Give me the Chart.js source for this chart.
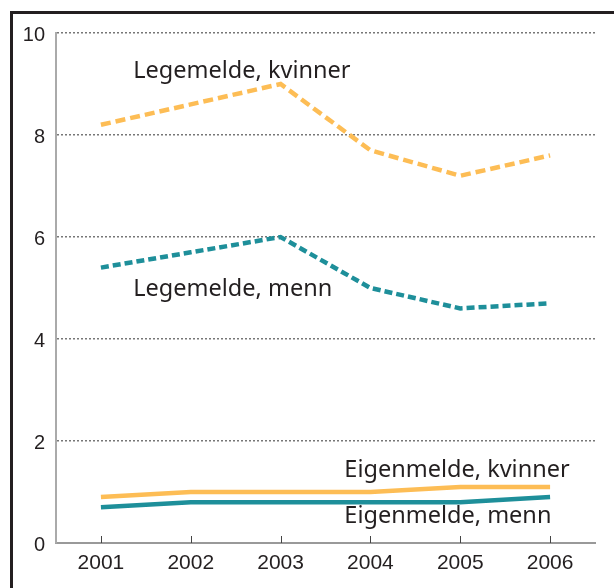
<!DOCTYPE html>
<html>
<head>
<meta charset="utf-8">
<script src="https://cdn.jsdelivr.net/npm/chart.js@4"></script>
<style>
  html, body { margin: 0; padding: 0; background: #fff; }
  #wrap { position: relative; width: 614px; height: 588px; overflow: hidden; }
  #frame { position: absolute; left: 10px; top: 11px; width: 700px; height: 700px;
           border-left: 3px solid #231f20; border-top: 3px solid #231f20; }
  canvas { position: absolute; left: 0; top: 0; }
</style>
</head>
<body>
<div id="wrap">
  <div id="frame"></div>
  <canvas id="lineChart" width="614" height="588"></canvas>
</div>
<script>
const years = ['2001', '2002', '2003', '2004', '2005', '2006'];
const legemeldeKvinner = [8.2, 8.6, 9.0, 7.7, 7.2, 7.6];
const legemeldeMenn = [5.4, 5.7, 6.0, 5.0, 4.6, 4.7];
const eigenmeldeKvinner = [0.9, 1.0, 1.0, 1.0, 1.1, 1.1];
const eigenmeldeMenn = [0.7, 0.8, 0.8, 0.8, 0.8, 0.9];
const yTicks = [0, 2, 4, 6, 8, 10];

const orange = '#fdbd55';
const teal = '#1e8f9a';

// text labels placed in data coordinates (x = category index, y = value)
const seriesLabels = [
    { text: 'Legemelde, kvinner', x: 0.36, y: 9.12 },
    { text: 'Legemelde, menn', x: 0.36, y: 4.84 },
    { text: 'Eigenmelde, kvinner', x: 2.71, y: 1.29 },
    { text: 'Eigenmelde, menn', x: 2.71, y: 0.39 },
];

const labelPlugin = {
    id: 'seriesLabels',
    afterDatasetsDraw(chart) {
        const ctx = chart.ctx;
        const xs = chart.scales.x;
        const ys = chart.scales.y;
        const step = xs.getPixelForValue(1) - xs.getPixelForValue(0);
        ctx.save();
        ctx.font = '23.5px "Noto Sans"';
        ctx.fillStyle = '#231f20';
        ctx.textAlign = 'left';
        ctx.textBaseline = 'alphabetic';
        seriesLabels.forEach((l) => {
            const px = xs.getPixelForValue(0) + l.x * step;
            ctx.fillText(l.text, px, ys.getPixelForValue(l.y));
        });
        // small inward tick marks on the x axis
        ctx.strokeStyle = '#444';
        ctx.lineWidth = 1;
        const bottom = chart.chartArea.bottom;
        years.forEach((y, i) => {
            const px = Math.round(xs.getPixelForValue(i)) + 0.5;
            ctx.beginPath();
            ctx.moveTo(px, bottom - 7);
            ctx.lineTo(px, bottom);
            ctx.stroke();
        });
        ctx.restore();
    },
};

const ctx = document.getElementById('lineChart').getContext('2d');
new Chart(ctx, {
    type: 'line',
    data: {
        labels: years,
        datasets: [
            { data: legemeldeKvinner, borderColor: orange, borderWidth: 4.5, borderDash: [10, 5] },
            { data: legemeldeMenn, borderColor: teal, borderWidth: 4.5, borderDash: [8, 4] },
            { data: eigenmeldeKvinner, borderColor: orange, borderWidth: 4.5 },
            { data: eigenmeldeMenn, borderColor: teal, borderWidth: 4.5 },
        ],
    },
    options: {
        responsive: false,
        animation: false,
        events: [],
        elements: { point: { radius: 0 }, line: { tension: 0, borderCapStyle: 'butt' } },
        layout: { padding: { top: 33, right: 19, left: 0, bottom: 0 } },
        plugins: { legend: { display: false }, tooltip: { enabled: false } },
        scales: {
            x: {
                offset: true,
                grid: { display: false, drawTicks: false },
                border: { display: true, color: '#999', width: 2 },
                ticks: { color: '#231f20', font: { family: 'Liberation Sans', size: 21 }, padding: 8, maxRotation: 0 },
                afterFit: (scale) => { scale.height = 45; },
            },
            y: {
                min: 0,
                max: 10,
                afterBuildTicks: (scale) => { scale.ticks = yTicks.map((v) => ({ value: v })); },
                grid: { color: (c) => (c.tick && c.tick.value === 0 ? 'rgba(0,0,0,0)' : '#777'), lineWidth: 1.5, drawTicks: false },
                border: { display: true, color: '#aaa', width: 2, dash: [2, 2] },
                ticks: { color: '#231f20', font: { family: 'Liberation Sans', size: 20 }, padding: 11, labelOffset: 2 },
                afterFit: (scale) => { scale.width = 56; },
            },
        },
    },
    plugins: [labelPlugin],
});
</script>
</body>
</html>
